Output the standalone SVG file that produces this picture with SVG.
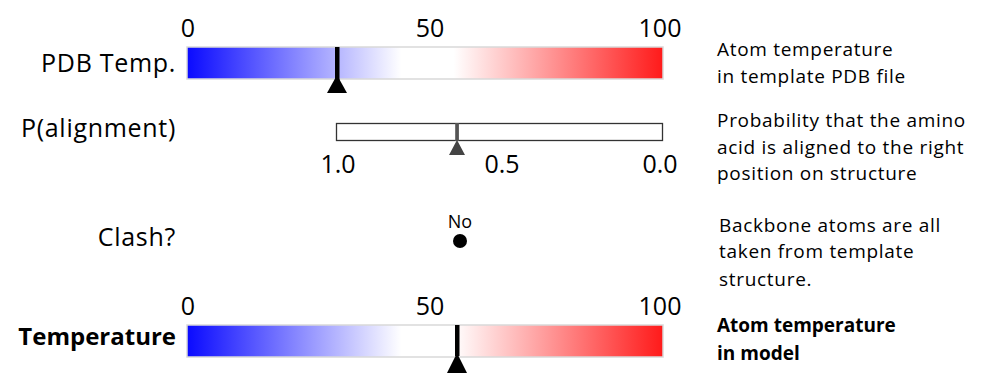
<svg xmlns="http://www.w3.org/2000/svg" width="1004" height="382" viewBox="0 0 1004 382">
<defs>
<linearGradient id="heat" x1="0" y1="0" x2="1" y2="0">
<stop offset="0" stop-color="#0a0aff"/>
<stop offset="0.45" stop-color="#ffffff"/>
<stop offset="0.56" stop-color="#ffffff"/>
<stop offset="1" stop-color="#ff1a1a"/>
</linearGradient>
<style>
text{font-family:"Open Sans","Noto Sans",sans-serif;fill:#000}
.lab{font-size:25px;text-anchor:end;letter-spacing:0.7px}
.num{font-size:25px;text-anchor:middle}
.desc{font-size:19px;letter-spacing:0.7px}
.bold{font-weight:bold;letter-spacing:0}
.lab.bold{font-size:24px}
.heat{fill:url(#heat);stroke:#d9d9d9;stroke-width:1.5}
</style>
</defs>
<rect width="1004" height="382" fill="#fff"/>
<g id="pdb-temp">
<text class="lab" x="176" y="72">PDB Temp.</text>
<text class="num" x="188" y="37">0</text>
<text class="num" x="430" y="37">50</text>
<text class="num" x="660" y="37">100</text>
<rect class="heat" x="187" y="47" width="476" height="32"/>
<rect x="335" y="47" width="4.5" height="34" fill="#000"/>
<polygon points="337,75 347,93 327,93" fill="#000"/>
<text class="desc" x="717" y="56">Atom temperature</text>
<text class="desc" x="717" y="83">in template PDB file</text>
</g>
<g id="p-alignment">
<text class="lab" x="176" y="137">P(alignment)</text>
<rect x="336.5" y="123.5" width="326" height="17" fill="#fff" stroke="#333" stroke-width="1.3"/>
<rect x="455.2" y="123" width="3.7" height="18" fill="#555"/>
<polygon points="457,140 465,155 449,155" fill="#444"/>
<text class="num" x="338" y="173">1.0</text>
<text class="num" x="502" y="173">0.5</text>
<text class="num" x="660" y="173">0.0</text>
<text class="desc" x="717" y="127">Probability that the amino</text>
<text class="desc" x="717" y="154">acid is aligned to the right</text>
<text class="desc" x="717" y="180">position on structure</text>
</g>
<g id="clash">
<text class="lab" x="176" y="246">Clash?</text>
<text x="460" y="228" font-size="18" text-anchor="middle">No</text>
<circle cx="460" cy="241" r="7" fill="#000"/>
<text class="desc" x="719" y="232">Backbone atoms are all</text>
<text class="desc" x="719" y="258">taken from template</text>
<text class="desc" x="719" y="286">structure.</text>
</g>
<g id="temperature">
<text class="lab bold" x="176" y="345">Temperature</text>
<text class="num" x="188" y="315">0</text>
<text class="num" x="430" y="315">50</text>
<text class="num" x="660" y="315">100</text>
<rect class="heat" x="187" y="325" width="476" height="32"/>
<rect x="455" y="325" width="4.5" height="31" fill="#000"/>
<polygon points="457,353 467,373 447,373" fill="#000"/>
<text class="desc bold" x="717" y="332">Atom temperature</text>
<text class="desc bold" x="717" y="360">in model</text>
</g>
</svg>
